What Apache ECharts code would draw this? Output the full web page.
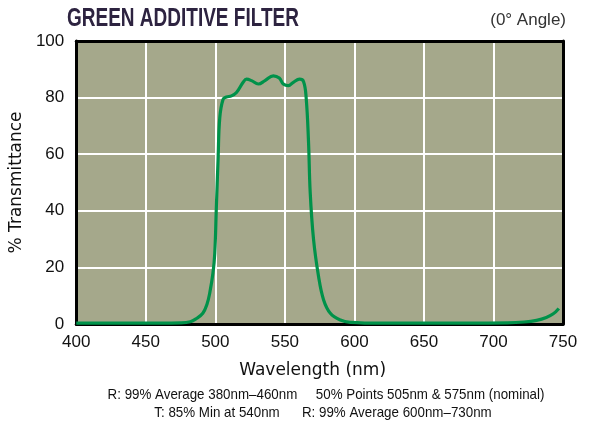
<!DOCTYPE html>
<html><head><meta charset="utf-8">
<script src="https://cdn.jsdelivr.net/npm/echarts@6/dist/echarts.min.js"></script>
<style>html,body{margin:0;padding:0;background:#fff}#c{width:592px;height:421px}</style>
</head><body><div id="c"></div>
<script>
const titleText = "GREEN ADDITIVE FILTER";
const angleText = "(0° Angle)";
const xName = "Wavelength (nm)";
const yName = "% Transmittance";
const note1 = "R: 99% Average 380nm–460nm     50% Points 505nm & 575nm (nominal)";
const note2 = "T: 85% Min at 540nm      R: 99% Average 600nm–730nm";
const xTicks = [400, 450, 500, 550, 600, 650, 700, 750];
const yTicks = [0, 20, 40, 60, 80, 100];
const wavelength = [400, 430, 460, 475, 482, 486, 491, 494, 496, 498.3, 499.6, 500.7, 502, 503.2, 505.6, 508, 511.6, 515.2, 520, 522.4, 526, 530.9, 535.7, 541.7, 546, 548.9, 552.5, 556.1, 560.5, 563.4, 565.3, 567, 568.2, 570.6, 574.2, 577.8, 582.7, 589.9, 597, 620, 650, 680, 710, 722, 731, 738, 743, 747];
const transmittance = [0.3, 0.3, 0.3, 0.4, 0.8, 1.8, 3.8, 7, 11, 18, 25, 40.7, 58.6, 72.9, 79.4, 80.2, 80.6, 81.8, 85.4, 86.5, 86, 84.8, 86, 87.7, 86.9, 84.8, 84.2, 85.4, 86.5, 85.7, 80, 64.5, 46.7, 30, 16.9, 8.6, 3.8, 1.4, 0.6, 0.3, 0.3, 0.3, 0.4, 0.7, 1.3, 2.3, 3.6, 5.5];

const chart = echarts.init(document.getElementById('c'));
const sans = '"Liberation Sans", Arial, sans-serif';
const wide = '"DejaVu Sans", sans-serif';
const frame = { show: true, onZero: false, lineStyle: { color: '#000', width: 3 } };
chart.setOption({
  animation: false,
  backgroundColor: '#fff',
  grid: { left: 71, right: 29, top: 41, bottom: 97, show: true, backgroundColor: '#a5a88b', borderWidth: 0 },
  xAxis: [{
    type: 'value', min: 400, max: 750, interval: 50, position: 'bottom',
    axisLine: frame, axisTick: { show: false },
    splitLine: { show: true, lineStyle: { color: '#fff', width: 2 } },
    axisLabel: { color: '#111', fontSize: 17, fontFamily: sans, margin: 10, formatter: v => xTicks.includes(v) ? String(v) : '' },
    name: xName, nameLocation: 'middle', nameGap: 38,
    nameTextStyle: { color: '#111', fontSize: 17, fontFamily: wide, padding: [0, 14, 0, 0] }
  }, {
    type: 'value', min: 400, max: 750, interval: 50, position: 'top',
    axisLine: frame, axisTick: { show: false }, splitLine: { show: false }, axisLabel: { show: false }
  }],
  yAxis: [{
    type: 'value', min: 0, max: 100, interval: 20, position: 'left',
    axisLine: frame, axisTick: { show: false },
    splitLine: { show: true, lineStyle: { color: '#fff', width: 2 } },
    axisLabel: { color: '#111', fontSize: 17, fontFamily: sans, margin: 12, formatter: v => yTicks.includes(v) ? String(v) : '' },
    name: yName, nameLocation: 'middle', nameGap: 32,
    nameTextStyle: { color: '#111', fontSize: 17, fontFamily: wide }
  }, {
    type: 'value', min: 0, max: 100, interval: 20, position: 'right',
    axisLine: frame, axisTick: { show: false }, splitLine: { show: false }, axisLabel: { show: false }
  }],
  series: [{
    type: 'line', smooth: 0.4, symbol: 'none', xAxisIndex: 0, yAxisIndex: 0,
    lineStyle: { color: '#00924a', width: 3.2 },
    data: wavelength.map((w, i) => [w, transmittance[i]])
  }],
  graphic: [
    { type: 'text', x: 67, y: 19, scaleX: 0.76, style: { text: titleText, fontSize: 25, fontWeight: 'bold', fontFamily: sans, fill: '#2d2340', textAlign: 'left', textVerticalAlign: 'middle' } },
    { type: 'text', x: 566, y: 20, style: { text: angleText, fontSize: 17, fontFamily: sans, fill: '#333', textAlign: 'right', textVerticalAlign: 'middle' } },
    { type: 'text', x: 326, y: 395, scaleX: 0.89, style: { text: note1, fontSize: 15, fontFamily: sans, fill: '#111', textAlign: 'center', textVerticalAlign: 'middle' } },
    { type: 'text', x: 323, y: 413, scaleX: 0.89, style: { text: note2, fontSize: 15, fontFamily: sans, fill: '#111', textAlign: 'center', textVerticalAlign: 'middle' } }
  ]
});
</script></body></html>
